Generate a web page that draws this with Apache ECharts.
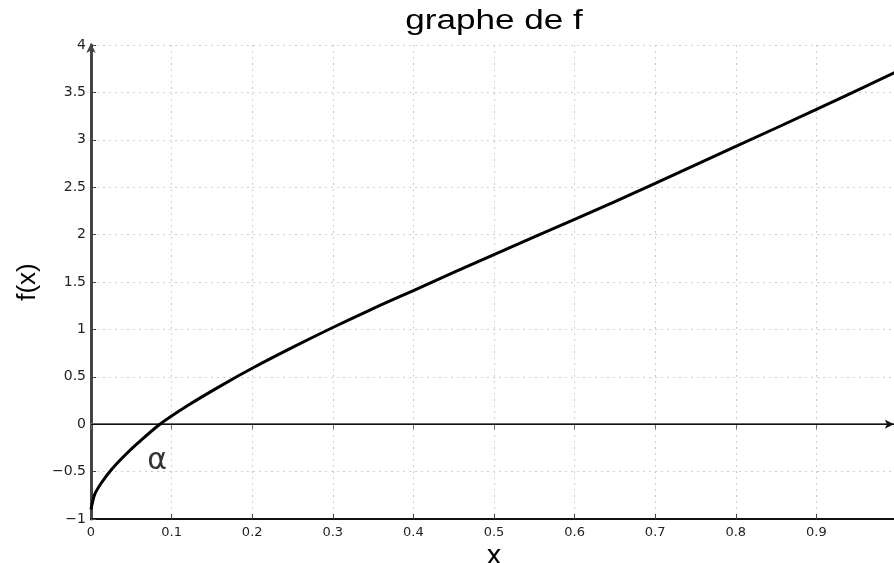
<!DOCTYPE html>
<html>
<head>
<meta charset="utf-8">
<script src="https://cdn.jsdelivr.net/npm/echarts@6/dist/echarts.min.js"></script>
<style>html,body{margin:0;padding:0;background:#fff;}#c{width:894px;height:563px;}</style>
</head>
<body>
<div id="c"></div>
<script>
var xs = [0, 0.0046, 0.0128, 0.0252, 0.0418, 0.058, 0.0855, 0.1205, 0.162, 0.2, 0.25, 0.3, 0.35, 0.4, 0.5, 0.6, 0.7, 0.8, 0.9, 1.0];
var fx = [-0.9, -0.74, -0.62, -0.48, -0.33, -0.2, 0, 0.2, 0.41, 0.59, 0.81, 1.02, 1.22, 1.41, 1.79, 2.16, 2.54, 2.93, 3.32, 3.72];
var alphaPos = [0.082, -0.39];
var titleText = 'graphe de f';
var xLabel = 'x';
var yLabel = 'f(x)';

var curve = xs.map(function (x, i) { return [x, fx[i]]; });
function fmtY(v) { return String(+v.toFixed(1)).replace('-', '\u2212'); }
function fmtX(v) { if (v > 0.999) return ''; return String(+v.toFixed(1)); }
var font = 'Liberation Sans, Arial, Helvetica, sans-serif';
var tickFont = 'DejaVu Sans, sans-serif';

var chart = echarts.init(document.getElementById('c'));
chart.setOption({
  animation: false,
  backgroundColor: '#fff',
  graphic: [{
    type: 'text', x: 494, y: 22, scaleX: 1.3, scaleY: 1, z: 10,
    style: { text: titleText, fontFamily: font, fontSize: 27, fill: '#000',
      align: 'center', verticalAlign: 'middle' }
  }],
  grid: { left: 91, top: 45, bottom: 44, width: 806, outerBoundsMode: 'none', containLabel: false },
  xAxis: [{
    type: 'value', min: 0, max: 1, interval: 0.1, position: 'bottom',
    name: xLabel, nameLocation: 'middle', nameGap: 20,
    nameTextStyle: { fontFamily: tickFont, fontSize: 26, color: '#000' },
    axisLine: { show: true, onZero: false, lineStyle: { color: '#111', width: 2 } },
    axisTick: { show: true, inside: true, length: 5, lineStyle: { color: '#444' } },
    axisLabel: { fontFamily: tickFont, fontSize: 13, color: '#222', margin: 7, formatter: fmtX },
    splitLine: { show: true, lineStyle: { color: '#cfcfcf', type: [2, 4], width: 1 } }
  }, {
    type: 'value', min: 0, max: 1, interval: 0.1, position: 'top',
    axisLine: { show: true, lineStyle: { color: '#666', width: 2 } },
    axisTick: { show: true, inside: true, length: 5, lineStyle: { color: '#666' } },
    axisLabel: { show: false }, splitLine: { show: false }
  }],
  yAxis: [{
    type: 'value', min: -1, max: 4, interval: 0.5,
    name: yLabel, nameLocation: 'middle', nameGap: 47, nameRotate: 90,
    nameTextStyle: { fontFamily: font, fontSize: 26, color: '#000' },
    axisLine: { show: true, onZero: false, symbol: ['none', 'arrow'], symbolSize: [7, 10], symbolOffset: [0, 2],
      lineStyle: { color: '#444', width: 3 } },
    axisTick: { show: true, inside: true, length: 5, lineStyle: { color: '#444' } },
    axisLabel: { fontFamily: tickFont, fontSize: 14, color: '#222', margin: 5, formatter: fmtY },
    splitLine: { show: true, lineStyle: { color: '#cfcfcf', type: [2, 4], width: 1 } }
  }],
  series: [{
    type: 'line', data: curve, smooth: 0.3, showSymbol: false, symbol: 'none',
    lineStyle: { color: '#000', width: 3 },
    z: 5,
    markLine: {
      silent: true, symbol: ['none', 'arrow'], symbolSize: [7, 9],
      label: { show: false },
      lineStyle: { color: '#111', width: 1, type: 'solid' },
      data: [[{ coord: [0, 0] }, { coord: [0.996, 0] }]]
    }
  }, {
    type: 'scatter', data: [alphaPos], symbolSize: 0, silent: true,
    label: { show: true, formatter: '\u03b1', position: 'inside',
      fontFamily: 'DejaVu Sans, sans-serif', fontSize: 30, color: '#000' }
  }]
});
</script>
</body>
</html>
